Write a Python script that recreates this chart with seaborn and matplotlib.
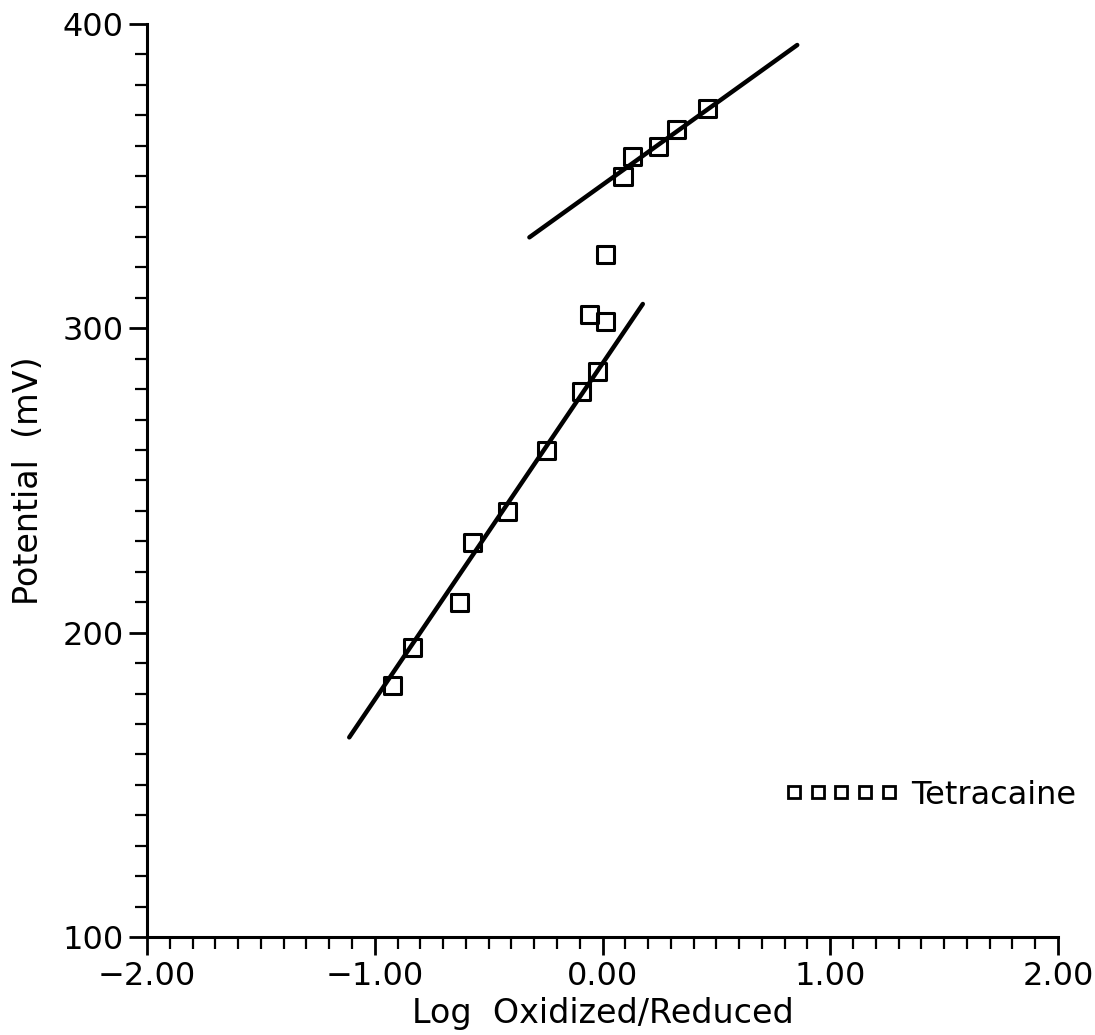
import numpy as np
import pandas as pd
import matplotlib
matplotlib.use("Agg")
import matplotlib.pyplot as plt
from matplotlib.lines import Line2D
from matplotlib.ticker import MultipleLocator, FuncFormatter
import seaborn as sns

# Measured redox titration points (log Ox/Red vs potential in mV)
log_ratio = [-0.924, -0.836, -0.630, -0.569, -0.419, -0.248, -0.094, -0.024,
             -0.059, 0.015, 0.015, 0.090, 0.130, 0.244, 0.327, 0.459]
potential = [182.8, 195.0, 209.8, 229.5, 239.7, 259.7, 279.4, 285.7,
             304.4, 302.4, 324.4, 349.8, 356.3, 359.6, 365.2, 372.1]

# Fitted regression lines (end points)
fit_low_x = [-1.112, 0.177]
fit_low_y = [165.6, 308.0]
fit_high_x = [-0.321, 0.855]
fit_high_y = [329.9, 393.1]

series_label = "Tetracaine"
x_label = "Log  Oxidized/Reduced"
y_label = "Potential  (mV)"

sns.set_style("ticks")
plt.rcParams["font.family"] = ["DejaVu Sans"]
plt.rcParams["text.color"] = "black"
plt.rcParams["axes.labelcolor"] = "black"
FS = 23

fig = plt.figure(figsize=(10.95, 10.35), dpi=100)
ax = fig.add_axes([147 / 1095, 1 - 937 / 1035, (1058 - 147) / 1095, (937 - 24) / 1035])

df = pd.DataFrame({"x": log_ratio, "y": potential})
sns.lineplot(x=fit_low_x, y=fit_low_y, ax=ax, color="black", linewidth=3.2,
             solid_capstyle="round")
sns.lineplot(x=fit_high_x, y=fit_high_y, ax=ax, color="black", linewidth=3.2,
             solid_capstyle="round")
sns.scatterplot(data=df, x="x", y="y", ax=ax, marker="s", s=150,
                facecolor="none", edgecolor="black", linewidth=2.2, zorder=5)

ax.set_xlim(-2, 2)
ax.set_ylim(100, 400)
ax.xaxis.set_major_locator(MultipleLocator(1.0))
ax.xaxis.set_minor_locator(MultipleLocator(0.1))
ax.yaxis.set_major_locator(MultipleLocator(100))
ax.yaxis.set_minor_locator(MultipleLocator(10))
ax.xaxis.set_major_formatter(FuncFormatter(lambda v, p: f"{v:.2f}".replace("-", "\u2212")))

for side in ("top", "right"):
    ax.spines[side].set_visible(False)
for side in ("left", "bottom"):
    ax.spines[side].set_linewidth(2.2)
    ax.spines[side].set_color("black")

ax.tick_params(which="major", direction="out", length=13, width=2.0,
               labelsize=FS, colors="black", labelcolor="black", pad=4)
ax.tick_params(which="minor", direction="out", length=8.5, width=1.6, colors="black")

ax.set_xlabel(x_label, fontsize=FS + 1, labelpad=4, color="black")
ax.set_ylabel(y_label, fontsize=FS + 1, labelpad=12, color="black")

handle = Line2D([], [], marker="s", linestyle="none", markersize=8.5,
                markerfacecolor="none", markeredgecolor="black", markeredgewidth=2.0)
fig.legend([handle], [series_label], loc="center right",
           bbox_to_anchor=(1076 / 1095, 1 - 795 / 1035), numpoints=5,
           handlelength=3.57, handletextpad=0.39, frameon=False, fontsize=FS,
           borderpad=0, borderaxespad=0, labelcolor="black")

fig.savefig("out.png", dpi=100, facecolor="white")
